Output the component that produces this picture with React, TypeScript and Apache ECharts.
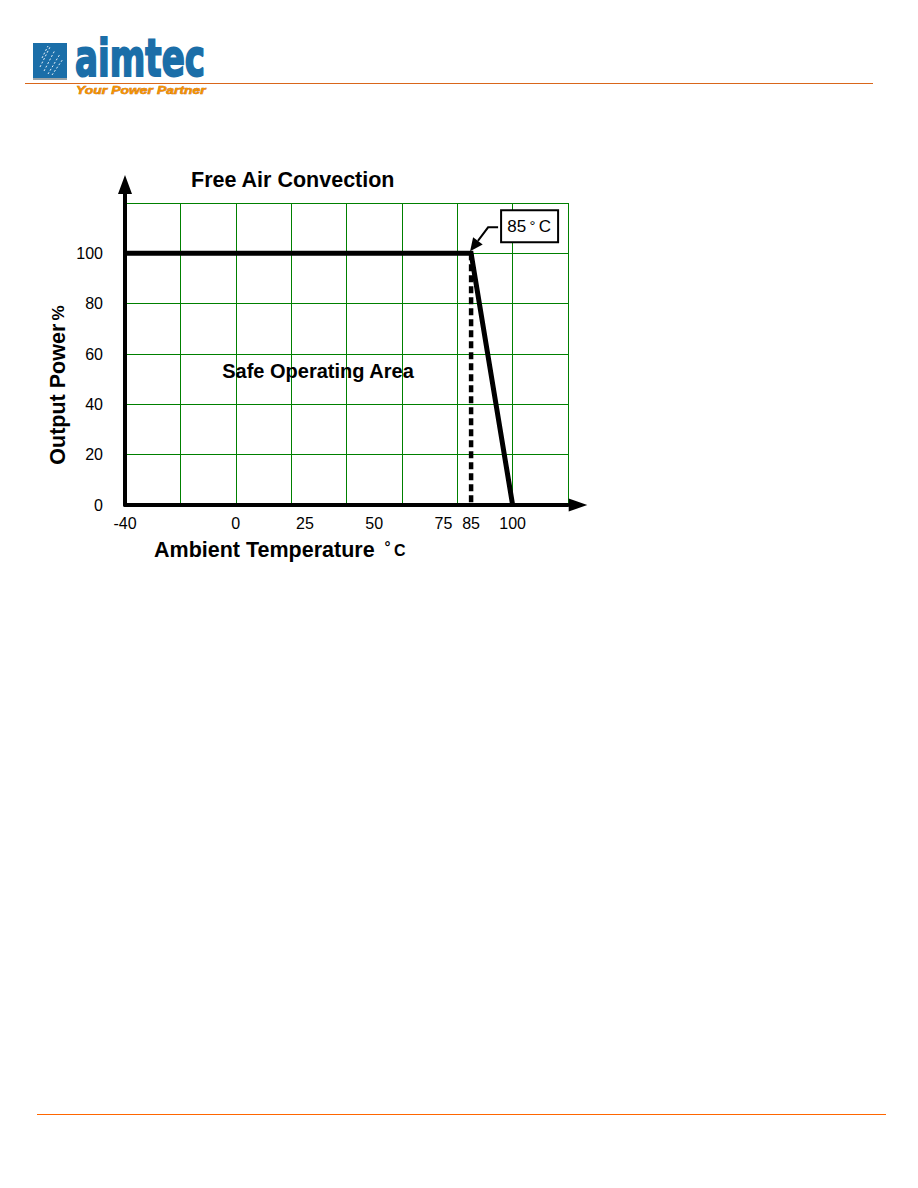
import React, { useEffect, useRef } from 'react';
import * as echarts from 'echarts';

// Derating curve: ambient temperature (°C) vs output power (%)
const deratingTemps = [-40, 85, 100];
const deratingPower = [100, 100, 0];
// Knee of the curve, marked with a dashed line and a callout
const kneeTemp = 85;
const kneePower = 100;
// Tick labels
const xTickLabels = [-40, 0, 25, 50, 75, 85, 100];
const yTickLabels = [0, 20, 40, 60, 80, 100];

const FONT = '"Liberation Sans", Arial, Helvetica, sans-serif';

export default function App() {
  const ref = useRef<HTMLDivElement>(null);

  useEffect(() => {
    const chart = echarts.init(ref.current!, null, { renderer: 'svg' });
    const curve = deratingTemps.map((t, i) => [t, deratingPower[i]]);

    chart.setOption({
      animation: false,
      backgroundColor: '#ffffff',
      title: {
        text: 'Free Air Convection',
        left: 186,
        top: 164,
        textStyle: { fontFamily: FONT, fontSize: 21.5, fontWeight: 'bold', color: '#000' },
      },
      grid: { left: 125, top: 203, right: 350, bottom: 683 },
      xAxis: {
        type: 'value',
        min: -40,
        max: 120,
        interval: 20,
        axisLine: {
          show: true,
          onZero: false,
          lineStyle: { color: '#000', width: 4 },
          symbol: ['none', 'path://M7,0 L14,20 L0,20 Z'],
          symbolSize: [13, 20],
          symbolOffset: [0, 10],
        },
        axisTick: { show: false },
        splitLine: { show: true, lineStyle: { color: '#008000', width: 1 } },
        axisLabel: {
          customValues: xTickLabels,
          color: '#000',
          fontFamily: FONT,
          fontSize: 16,
          margin: 10,
        },
      },
      yAxis: {
        type: 'value',
        min: 0,
        max: 120,
        interval: 20,
        axisLine: {
          show: true,
          onZero: false,
          lineStyle: { color: '#000', width: 4 },
          symbol: ['none', 'path://M7,0 L14,19 L9,19 L9,28 L5,28 L5,19 L0,19 Z'],
          symbolSize: [14, 28],
          symbolOffset: [0, 14],
        },
        axisTick: { show: false },
        splitLine: { show: true, lineStyle: { color: '#008000', width: 1 } },
        axisLabel: {
          customValues: yTickLabels,
          color: '#000',
          fontFamily: FONT,
          fontSize: 16,
          margin: 22,
        },
      },
      series: [
        {
          type: 'line',
          name: 'Output power',
          data: curve,
          symbol: 'none',
          z: 5,
          lineStyle: { color: '#000', width: 5, join: 'miter' },
        },
        {
          type: 'line',
          name: '85 °C',
          data: [[kneeTemp, kneePower], [kneeTemp, 0]],
          symbol: 'none',
          z: 4,
          lineStyle: { color: '#000', width: 4.5, type: [7, 4] },
        },
      ],
    });

    const p = chart.convertToPixel({ gridIndex: 0 }, [kneeTemp, kneePower]) as number[];
    const tip = [p[0] - 1, p[1] - 2];
    const elbow = [p[0] + 17, p[1] - 26];
    const dx = tip[0] - elbow[0];
    const dy = tip[1] - elbow[1];
    const len = Math.sqrt(dx * dx + dy * dy);
    const ux = dx / len;
    const uy = dy / len;
    const headLen = 13;
    const headHalf = 6;
    const bx = tip[0] - ux * headLen;
    const by = tip[1] - uy * headLen;

    const streaks = [
      [40, 67, 50, 47],
      [44, 71, 55, 50],
      [48, 74, 60, 54],
      [52, 75, 63, 59],
      [42, 58, 48, 46],
    ];

    chart.setOption({
      graphic: [
        // header logo
        { type: 'rect', shape: { x: 33, y: 43, width: 34, height: 35 }, style: { fill: '#1B6EA8' } },
        { type: 'rect', shape: { x: 33, y: 78, width: 34, height: 2 }, style: { fill: '#9aa3a8' } },
        ...streaks.map((s) => ({
          type: 'line',
          shape: { x1: s[0], y1: s[1], x2: s[2], y2: s[3] },
          style: { stroke: '#e8f2fa', lineWidth: 1, lineDash: [2, 2] },
        })),
        {
          type: 'text',
          x: 75,
          y: 84,
          scaleX: 0.67,
          style: {
            text: 'aimtec',
            fill: '#1B6EA8',
            stroke: '#1B6EA8',
            lineWidth: 2,
            font: 'bold 51px "DejaVu Sans", sans-serif',
            align: 'left',
            verticalAlign: 'bottom',
          },
        },
        { type: 'line', shape: { x1: 25, y1: 83.5, x2: 873, y2: 83.5 }, style: { stroke: '#D9661A', lineWidth: 1 } },
        {
          type: 'text',
          x: 76,
          y: 91,
          scaleX: 1.27,
          style: {
            text: 'Your Power Partner',
            fill: '#F39200',
            font: 'italic bold 11px ' + FONT,
            align: 'left',
            verticalAlign: 'middle',
            stroke: '#b85a08',
            lineWidth: 0.5,
          },
        },
        // footer line
        { type: 'line', shape: { x1: 37, y1: 1114.5, x2: 886, y2: 1114.5 }, style: { stroke: '#FF6600', lineWidth: 1 } },
        // axis names
        {
          type: 'text',
          x: 154,
          y: 550,
          style: {
            text: '{b|Ambient Temperature}   {d|°} {c|C}',
            align: 'left',
            verticalAlign: 'middle',
            rich: {
              b: { font: 'bold 21.5px ' + FONT, fill: '#000' },
              d: { font: 'bold 15px ' + FONT, fill: '#000', verticalAlign: 'top' },
              c: { font: 'bold 16px ' + FONT, fill: '#000' },
            },
          },
        },
        {
          type: 'text',
          x: 58,
          y: 385,
          rotation: Math.PI / 2,
          style: {
            text: '{b|Output Power} {s|%}',
            align: 'center',
            verticalAlign: 'middle',
            rich: {
              b: { font: 'bold 21.5px ' + FONT, fill: '#000' },
              s: { font: 'bold 17px ' + FONT, fill: '#000' },
            },
          },
        },
        {
          type: 'text',
          x: 318,
          y: 371,
          style: {
            text: 'Safe Operating Area',
            font: 'bold 20px ' + FONT,
            fill: '#000',
            align: 'center',
            verticalAlign: 'middle',
          },
        },
        // callout for the 85 °C knee
        {
          type: 'rect',
          shape: { x: p[0] + 30, y: p[1] - 43, width: 57, height: 32 },
          style: { fill: '#fff', stroke: '#000', lineWidth: 2 },
          z: 10,
        },
        {
          type: 'text',
          x: p[0] + 58,
          y: p[1] - 27,
          z: 11,
          style: {
            text: '{n|85} {s|°} {n|C}',
            align: 'center',
            verticalAlign: 'middle',
            rich: {
              n: { font: '17px ' + FONT, fill: '#000' },
              s: { font: '15px ' + FONT, fill: '#000', verticalAlign: 'top' },
            },
          },
        },
        {
          type: 'polyline',
          shape: { points: [[p[0] + 27, p[1] - 26], elbow, [bx, by]] },
          style: { stroke: '#000', lineWidth: 2, fill: null },
          z: 10,
        },
        {
          type: 'polygon',
          shape: {
            points: [
              tip,
              [bx - uy * headHalf, by + ux * headHalf],
              [bx + uy * headHalf, by - ux * headHalf],
            ],
          },
          style: { fill: '#000' },
          z: 10,
        },
      ],
    });

    return () => chart.dispose();
  }, []);

  return (
    <div
      ref={ref}
      style={{ position: 'absolute', left: 0, top: 0, width: 918, height: 1188, background: '#fff' }}
    />
  );
}
